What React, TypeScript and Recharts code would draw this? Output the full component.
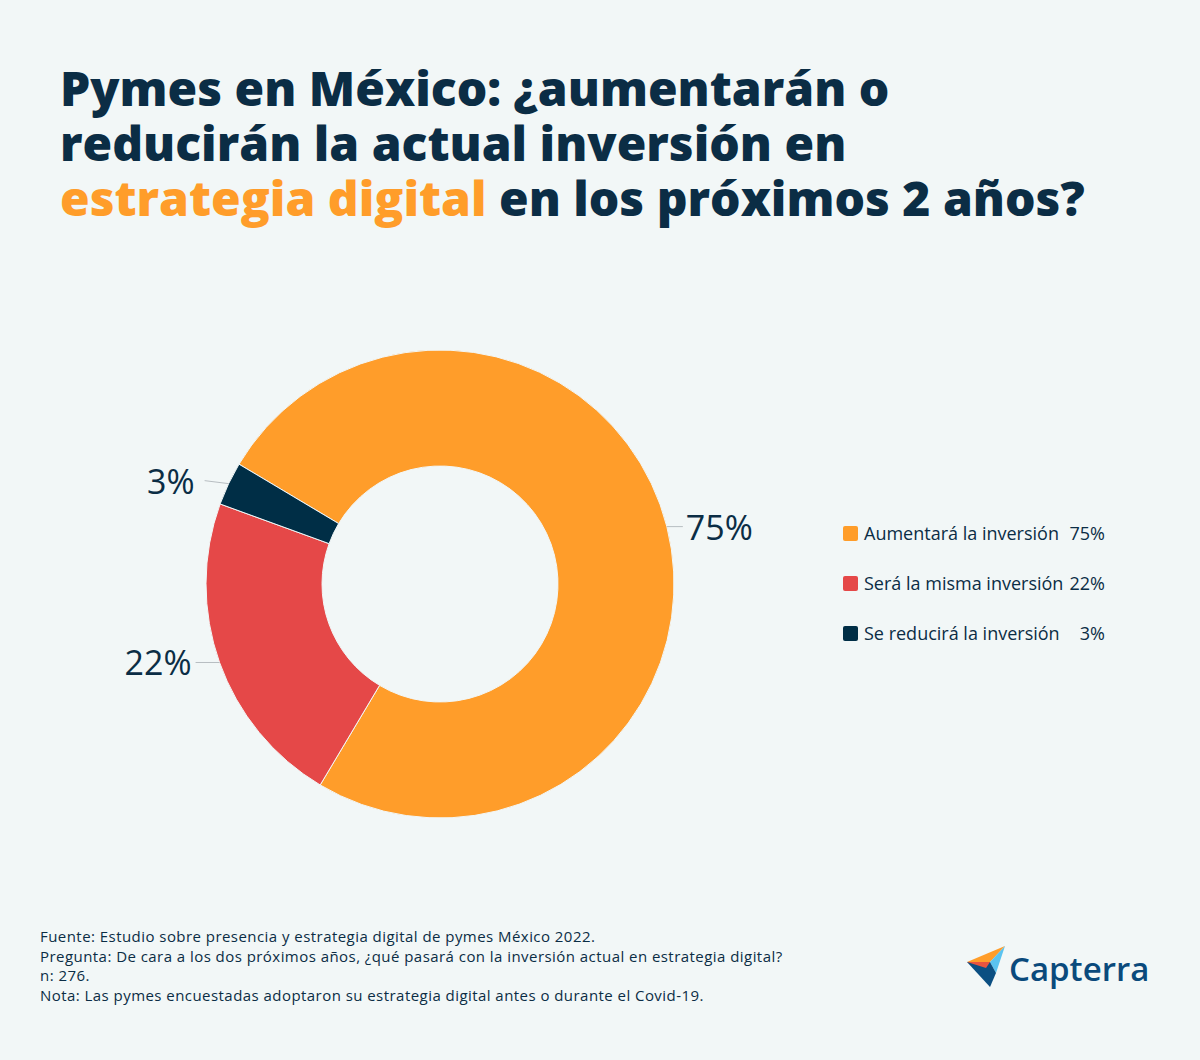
import React from 'react';
import { PieChart, Pie, Cell, Legend } from 'recharts';

const categories = ['Aumentará la inversión', 'Será la misma inversión', 'Se reducirá la inversión'];
const values = [75, 22, 3];
const colors = ['#FF9D2A', '#E54848', '#002E46'];
const valueLabels = ['75%', '22%', '3%'];

const footerLines = [
  'Fuente: Estudio sobre presencia y estrategia digital de pymes México 2022.',
  'Pregunta: De cara a los dos próximos años, ¿qué pasará con la inversión actual en estrategia digital?',
  'n: 276.',
  'Nota: Las pymes encuestadas adoptaron su estrategia digital antes o durante el Covid-19.',
];

const NAVY = '#0B2D45';
const BG = '#F2F7F7';
const FONT = '"Open Sans", "Noto Sans", sans-serif';

const data = categories.map((name, i) => ({ name, value: values[i], label: valueLabels[i] }));

const RAD = Math.PI / 180;

function renderLabel(props: any) {
  const { cx, cy, midAngle, outerRadius, payload, index } = props;
  const cos = Math.cos(-midAngle * RAD);
  const sin = Math.sin(-midAngle * RAD);
  const sx = cx + outerRadius * cos;
  const sy = cy + outerRadius * sin;
  const right = cos >= 0;
  const ex = sx + (right ? 16 : -24);
  const ey = sy - (index === 2 ? 3 : 0);
  const tx = ex + (right ? 3 : (index === 2 ? -10 : -4));
  return (
    <g>
      <line x1={sx} y1={sy} x2={ex} y2={ey} stroke="#B8BEC2" strokeWidth={1} />
      <text x={tx} y={ey} textAnchor={right ? 'start' : 'end'} dominantBaseline="central"
        fill={NAVY} fontSize={34} fontFamily={FONT}>
        {payload.label}
      </text>
    </g>
  );
}

function LegendContent() {
  return (
    <div style={{ fontFamily: FONT, fontSize: 18, color: NAVY, whiteSpace: 'nowrap' }}>
      {data.map((d, i) => (
        <div key={d.name} style={{ display: 'flex', alignItems: 'center', height: 50, width: 262 }}>
          <span style={{ width: 15, height: 15, background: colors[i], borderRadius: 2, marginRight: 6, flex: 'none' }} />
          <span style={{ flex: 1 }}>{d.name}</span>
          <span>{d.label}</span>
        </div>
      ))}
    </div>
  );
}

function Logo() {
  return (
    <svg width={220} height={60} style={{ position: 'absolute', left: 960, top: 940 }}>
      <polygon points="7,22 45,6 30,22" fill="#FF9D2A" />
      <polygon points="30,22 45,6 36,33" fill="#5BC3F0" />
      <polygon points="7,22 30,22 36,33 30,47" fill="#0B4F82" />
      <polygon points="7,22 30,22 26,28" fill="#E8543F" />
      <text x={49} y={41} fontFamily={FONT} fontWeight={600} fontSize={33} fill="#0A4A7C">Capterra</text>
    </svg>
  );
}

export default function App() {
  return (
    <div style={{ position: 'absolute', left: 0, top: 0, width: 1200, height: 1060, background: BG, overflow: 'hidden' }}>
      <PieChart width={1200} height={1060} style={{ position: 'absolute', left: 0, top: 0 }}>
        <Pie
          data={data}
          dataKey="value"
          nameKey="name"
          cx={435}
          cy={579}
          innerRadius={118}
          outerRadius={234}
          startAngle={149.2}
          endAngle={-210.8}
          stroke="#F2F7F7"
          strokeWidth={1}
          label={renderLabel}
          labelLine={false}
          isAnimationActive={false}
        >
          {data.map((d, i) => <Cell key={d.name} fill={colors[i]} />)}
        </Pie>
        <Legend
          layout="vertical"
          content={<LegendContent />}
          wrapperStyle={{ position: 'absolute', left: 843, top: 508, width: 262 }}
        />
      </PieChart>
      <div style={{ position: 'absolute', left: 60, top: 60, fontFamily: FONT, fontWeight: 800, fontSize: 48, lineHeight: '55px', color: NAVY, whiteSpace: 'nowrap' }}>
        <div>Pymes en México: ¿aumentarán o</div>
        <div>reducirán la actual inversión en</div>
        <div><span style={{ color: '#FF9D2A' }}>estrategia digital</span> en los próximos 2 años?</div>
      </div>
      <div style={{ position: 'absolute', left: 40, top: 927, fontFamily: FONT, fontSize: 15, letterSpacing: 0.45, lineHeight: '19.5px', color: NAVY, whiteSpace: 'nowrap' }}>
        {footerLines.map((l) => <div key={l}>{l}</div>)}
      </div>
      <Logo />
    </div>
  );
}
